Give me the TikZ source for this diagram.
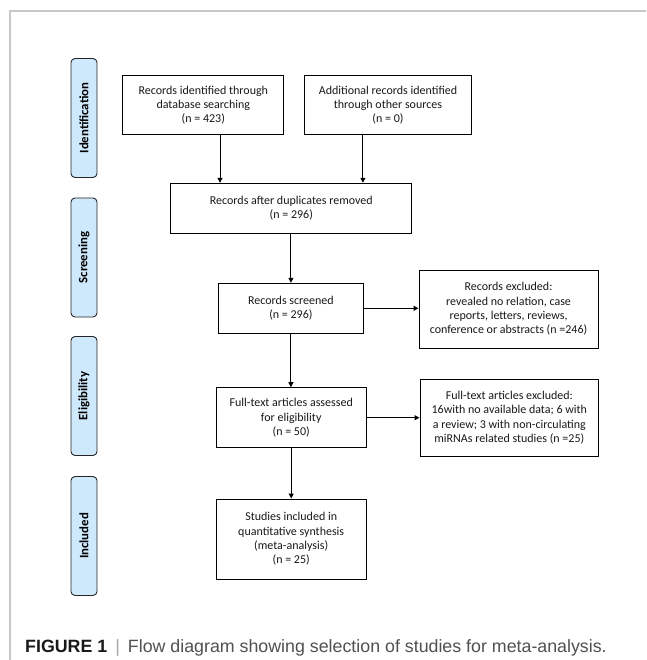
\documentclass[tikz,border=0pt]{standalone}
\usepackage{fontspec}
\setmainfont{Carlito}
\newfontfamily\capfont{Liberation Sans}
\usetikzlibrary{arrows.meta}
\definecolor{framegray}{RGB}{200,200,200}
\definecolor{labelblue}{RGB}{207,233,252}
\definecolor{captext}{RGB}{80,80,80}
\begin{document}
\begin{tikzpicture}[x=1pt,y=-1pt,
  box/.style={draw=black, line width=1pt, fill=white, align=center, inner sep=0pt,
    font=\fontsize{12}{14.3}\selectfont, text=black!90},
  lbl/.style={draw=black!85, line width=0.9pt, fill=labelblue, rounded corners=4pt,
    minimum width=26pt, minimum height=119pt, inner sep=0pt},
  lbltext/.style={rotate=90, font=\fontsize{12.8}{14}\selectfont\bfseries},
  arr/.style={line width=1pt, -{Triangle[length=5pt,width=5pt]}}]
\useasboundingbox (0,0) rectangle (646,660);
\draw[framegray, line width=1.5pt] (10,660) -- (10,11) -- (646,11);
% phase labels
\node[lbl] (l1) at (84,118) {};
\node[lbltext] (t1) at (l1.center) {Identification};
\node[lbl] (l2) at (84,257.5) {};
\node[lbltext] (t2) at (l2.center) {Screening};
\node[lbl] (l3) at (84,396) {};
\node[lbltext] (t3) at (l3.center) {Eligibility};
\node[lbl] (l4) at (84,536) {};
\node[lbltext] (t4) at (l4.center) {Included};
% boxes
\node[box, minimum width=161pt, minimum height=58.5pt] (b1) at (203.3,105.2)
  {Records identified through\\database searching\\(n = 423)};
\node[box, minimum width=166.8pt, minimum height=58.5pt] (b2) at (388,105.2)
  {Additional records identified\\through other sources\\(n = 0)};
\node[box, minimum width=241pt, minimum height=50pt] (b3) at (291.3,208.3)
  {Records after duplicates removed\\(n = 296)};
\node[box, minimum width=145.4pt, minimum height=50pt] (b4) at (290.9,308.3)
  {Records screened\\(n = 296)};
\node[box, minimum width=179pt, minimum height=78pt] (e1) at (508.5,309)
  {Records excluded:\\revealed no relation, case\\reports, letters, reviews,\\conference or abstracts (n =246)};
\node[box, minimum width=149.6pt, minimum height=60pt] (b5) at (291.2,417.7)
  {Full-text articles assessed\\for eligibility\\(n = 50)};
\node[box, minimum width=178.6pt, minimum height=77pt] (e2) at (509.3,417.7)
  {Full-text articles excluded:\\16with no available data; 6 with\\a review; 3 with non-circulating\\miRNAs related studies (n =25)};
\node[box, minimum width=149.6pt, minimum height=80pt] (b6) at (291.2,539)
  {Studies included in\\quantitative synthesis\\(meta-analysis)\\(n = 25)};
% connectors
\coordinate (a1) at (220,0);
\coordinate (a2) at (362.9,0);
\draw[arr] (a1 |- b1.south) -- (a1 |- b3.north);
\draw[arr] (a2 |- b2.south) -- (a2 |- b3.north);
\draw[arr] (b3.south -| b4.north) -- (b4.north);
\draw[arr] (b4.east) -- (b4.east -| e1.west);
\draw[arr] (b4.south) -- (b4.south |- b5.north);
\draw[arr] (b5.east) -- (b5.east -| e2.west);
\draw[arr] (b5.south) -- (b5.south |- b6.north);
% caption
\node[anchor=base west, inner sep=0pt, font=\capfont\fontsize{17.8}{19}\selectfont, text=captext] (cap) at (25,652)
  {{\bfseries\color{black!90}FIGURE 1}\hspace{0.45em}{\color{gray!70}|}\hspace{0.45em}Flow diagram showing selection of studies for meta-analysis.};
\end{tikzpicture}
\end{document}
